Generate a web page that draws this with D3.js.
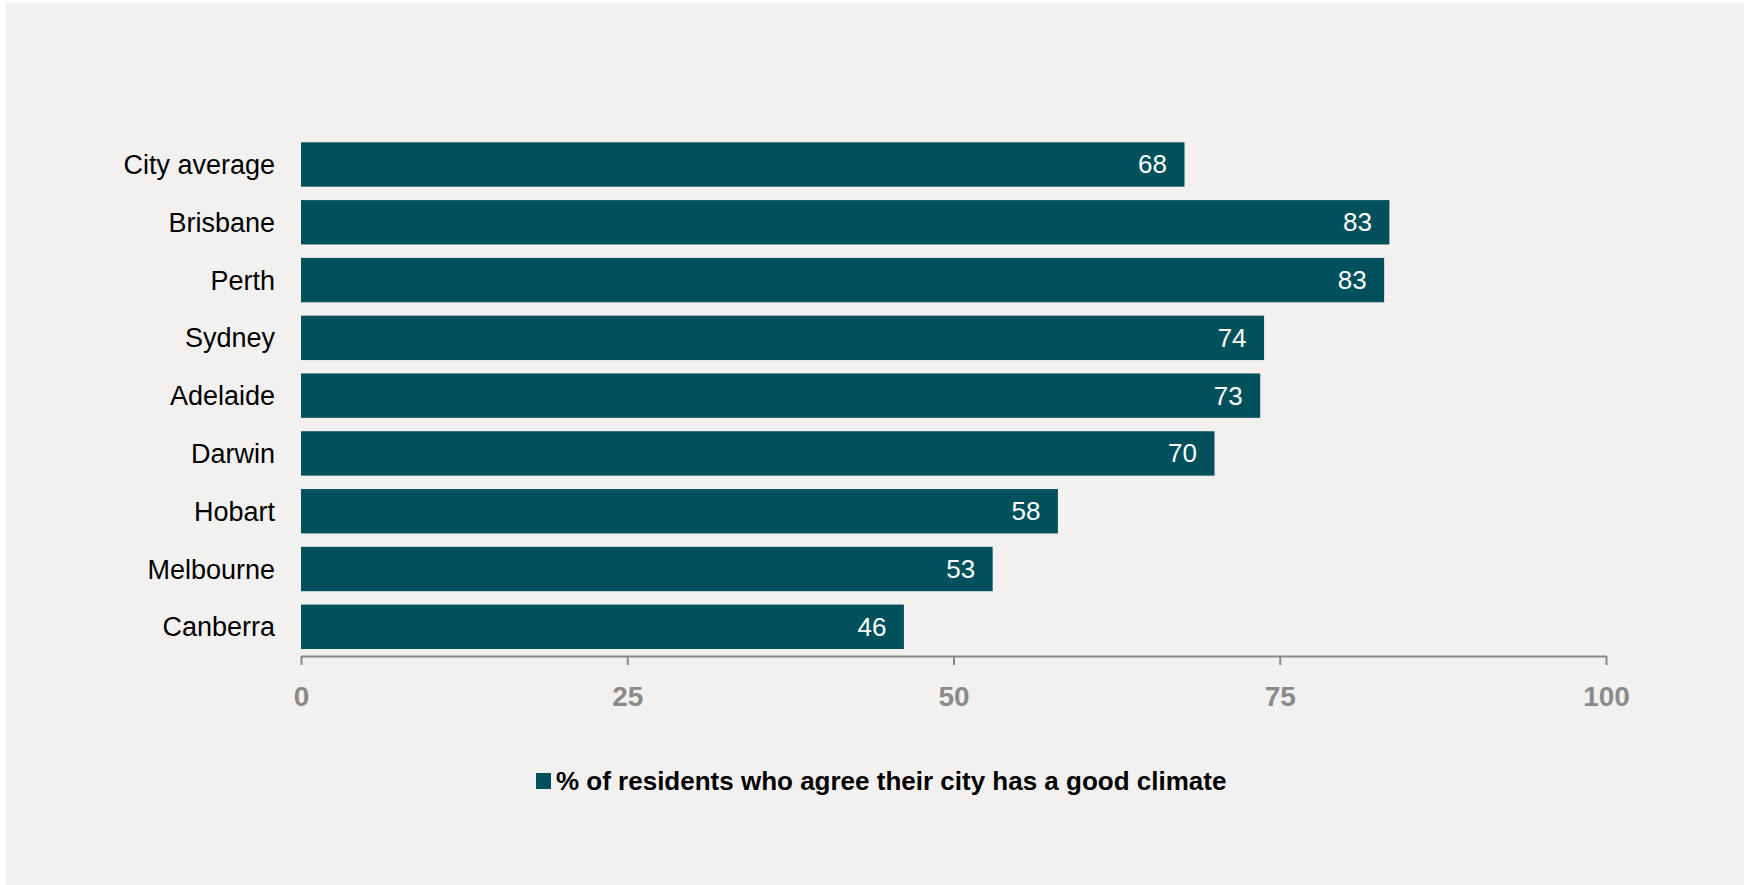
<!DOCTYPE html>
<html>
<head>
<meta charset="utf-8">
<script src="https://cdn.jsdelivr.net/npm/d3@7/dist/d3.min.js"></script>
<style>
  html, body { margin: 0; padding: 0; background: #ffffff; }
  svg { display: block; }
  text { font-family: "Liberation Sans", Arial, sans-serif; }
</style>
</head>
<body>
<svg id="chart" width="1744" height="885"></svg>
<script>
// Data
const categories = ["City average", "Brisbane", "Perth", "Sydney", "Adelaide", "Darwin", "Hobart", "Melbourne", "Canberra"];
const values = [67.7, 83.4, 83.0, 73.8, 73.5, 70.0, 58.0, 53.0, 46.2];
const valueLabels = ["68", "83", "83", "74", "73", "70", "58", "53", "46"];
const tickValues = [0, 25, 50, 75, 100];
const seriesName = "% of residents who agree their city has a good climate";

const W = 1744, H = 885;
const barColor = "#00515c";
const svg = d3.select("#chart");

// background panel
svg.append("rect").attr("x", 6).attr("y", 3).attr("width", W - 6).attr("height", H - 3).attr("fill", "#f2f1ef");

const x = d3.scaleLinear().domain([0, 100]).range([301, 1606]);
const y = d3.scaleBand().domain(categories).range([135.6, 655.7]).paddingInner(0.232).paddingOuter(0.116);

const data = categories.map((c, i) => ({ c, v: values[i], l: valueLabels[i] }));

// bars
svg.append("g").selectAll("rect").data(data).join("rect")
  .attr("x", x(0))
  .attr("y", d => y(d.c))
  .attr("width", d => x(d.v) - x(0))
  .attr("height", y.bandwidth())
  .attr("fill", barColor);

// value labels
svg.append("g").selectAll("text").data(data).join("text")
  .attr("x", d => x(d.v) - 17.5)
  .attr("y", d => y(d.c) + y.bandwidth() / 2 + 9)
  .attr("text-anchor", "end")
  .attr("fill", "#ffffff")
  .attr("font-size", 26)
  .text(d => d.l);

// category labels
svg.append("g").selectAll("text").data(data).join("text")
  .attr("x", 275)
  .attr("y", d => y(d.c) + y.bandwidth() / 2 + 9.5)
  .attr("text-anchor", "end")
  .attr("fill", "#000000")
  .attr("font-size", 27)
  .text(d => d.c);

// x axis
const axisY = 656;
const gx = svg.append("g").attr("transform", `translate(0,${axisY})`)
  .call(d3.axisBottom(x).tickValues(tickValues).tickSize(9).tickSizeOuter(0).tickFormat(d3.format("d")));
gx.select(".domain").attr("stroke", "#888888").attr("stroke-width", 2);
gx.selectAll(".tick line").attr("stroke", "#888888").attr("stroke-width", 2);
gx.selectAll(".tick text")
  .attr("y", 50).attr("dy", 0)
  .attr("fill", "#8a8a8a")
  .attr("font-size", 28)
  .attr("font-weight", "bold")
  .attr("font-family", "\"Liberation Sans\", Arial, sans-serif");

// legend
const lg = svg.append("g");
lg.append("rect").attr("x", 536).attr("y", 773).attr("width", 15).attr("height", 16).attr("fill", barColor);
lg.append("text").attr("x", 556).attr("y", 790)
  .attr("font-size", 26).attr("font-weight", "bold").attr("fill", "#000000")
  .text(seriesName);
</script>
</body>
</html>
